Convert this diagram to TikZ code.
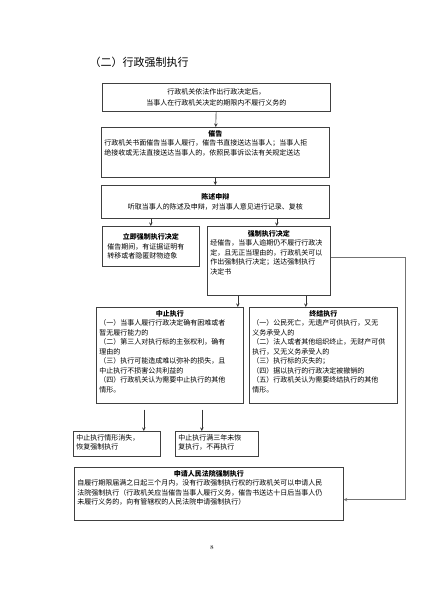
\documentclass[tikz,border=0pt]{standalone}
\usepackage{fontspec}
\newfontfamily\cjk{Noto Sans CJK SC}
\usepackage{tikz}
\usetikzlibrary{arrows, positioning, calc}

\newcommand{\boxtitle}[1]{\makebox[\linewidth]{\bfseries #1}}
\newcommand{\padbottom}[1]{\rule[-#1]{0pt}{#1}}

\begin{document}
\begin{tikzpicture}[
        x=1pt, y=-1pt,
        stepbox/.style={
            rectangle, draw=black!75, fill=white, line width=0.7pt,
            anchor=north west, align=left,
            inner xsep=3pt, inner ysep=3pt,
            font=\cjk\fontsize{7}{9.5}\selectfont
        },
        arrow/.style={->, >=stealth, line width=0.6pt, draw=black!80}
    ]
        \fill[white] (0,0) rectangle (424,600);
        \useasboundingbox (0,0) rectangle (424,600);

        \node[anchor=west, font=\cjk\fontsize{11}{13}\selectfont] (heading) at (86,62) {（二）行政强制执行};

        \node[stepbox, text width=222pt, align=center, minimum height=28pt,
              font=\cjk\fontsize{7}{11}\selectfont] (start) at (102,83) {
            行政机关依法作出行政决定后，\\
            当事人在行政机关决定的期限内不履行义务的
        };

        \node[stepbox, text width=222pt] (urge) at (101,127) {
            \boxtitle{催告}\\
            行政机关书面催告当事人履行，催告书直接送达当事人；当事人拒\\
            绝接收或无法直接送达当事人的，依照民事诉讼法有关规定送达\padbottom{19pt}
        };

        \node[stepbox, text width=222pt, align=center, minimum height=33pt] (state) at (101,185) {
            \textbf{陈述申辩}\\
            听取当事人的陈述及申辩，对当事人意见进行记录、复核
        };

        \node[stepbox, text width=87pt, inner xsep=5pt, minimum height=40pt] (immediate) at (102,226) {
            \boxtitle{立即强制执行决定}\\
            催告期间，有证据证明有\\
            转移或者隐匿财物迹象
        };

        \node[stepbox, text width=117pt, inner ysep=4pt] (decision) at (207,226) {
            \boxtitle{强制执行决定}\\
            经催告，当事人逾期仍不履行行政决\\
            定，且无正当理由的，行政机关可以\\
            作出强制执行决定；送达强制执行\\
            决定书\padbottom{17pt}
        };

        \node[stepbox, text width=141pt] (suspend) at (96,307) {
            \boxtitle{中止执行}\\
            （一）当事人履行行政决定确有困难或者\\
            暂无履行能力的\\
            （二）第三人对执行标的主张权利，确有\\
            理由的\\
            （三）执行可能造成难以弥补的损失，且\\
            中止执行不损害公共利益的\\
            （四）行政机关认为需要中止执行的其他\\
            情形。\padbottom{8pt}
        };

        \node[stepbox, text width=142pt] (terminate) at (249,307) {
            \boxtitle{终结执行}\\
            （一）公民死亡，无遗产可供执行，又无\\
            义务承受人的\\
            （二）法人或者其他组织终止，无财产可供\\
            执行，又无义务承受人的\\
            （三）执行标的灭失的；\\
            （四）据以执行的行政决定被撤销的\\
            （五）行政机关认为需要终结执行的其他\\
            情形。\padbottom{8pt}
        };

        \node[stepbox, text width=81pt] (resume) at (73,431) {
            中止执行情形消失，\\
            恢复强制执行\padbottom{4pt}
        };

        \node[stepbox, text width=77pt] (noresume) at (175,431) {
            中止执行满三年未恢\\
            复执行，不再执行\padbottom{4pt}
        };

        \node[stepbox, text width=263pt] (court) at (74,467) {
            \boxtitle{申请人民法院强制执行}\\
            自履行期限届满之日起三个月内，没有行政强制执行权的行政机关可以申请人民\\
            法院强制执行（行政机关应当催告当事人履行义务，催告书送达十日后当事人仍\\
            未履行义务的，向有管辖权的人民法院申请强制执行）\padbottom{12pt}
        };

        \node[font=\fontsize{6}{7}\selectfont] (pagenum) at (212,548) {8};

        \coordinate (rail) at (405,0);

        \draw[arrow] (start) -- (urge);
        \draw[arrow] (urge) -- (state);
        \draw[arrow] (immediate.north |- state.south) -- (immediate.north);
        \draw[arrow] ([xshift=8pt]decision.north |- state.south) -- ([xshift=8pt]decision.north);
        \draw[arrow] ([xshift=-31pt]decision.south) -- ([xshift=-31pt]decision.south |- suspend.north);
        \draw[arrow] ([xshift=37pt]decision.south) -- ([xshift=37pt]decision.south |- terminate.north);
        \draw[arrow, shorten <=6pt] ([xshift=-26pt]suspend.south) -- ([xshift=-26pt]suspend.south |- resume.north);
        \draw[arrow, shorten <=6pt] ([xshift=32pt]suspend.south) -- ([xshift=32pt]suspend.south |- noresume.north);
        \draw[arrow, draw=black!55] ([yshift=4pt]decision.east) -- ([yshift=4pt]decision.east -| rail)
            -- ([yshift=-6pt]court.east -| rail) -- ([yshift=-6pt]court.east);
    \end{tikzpicture}
\end{document}
